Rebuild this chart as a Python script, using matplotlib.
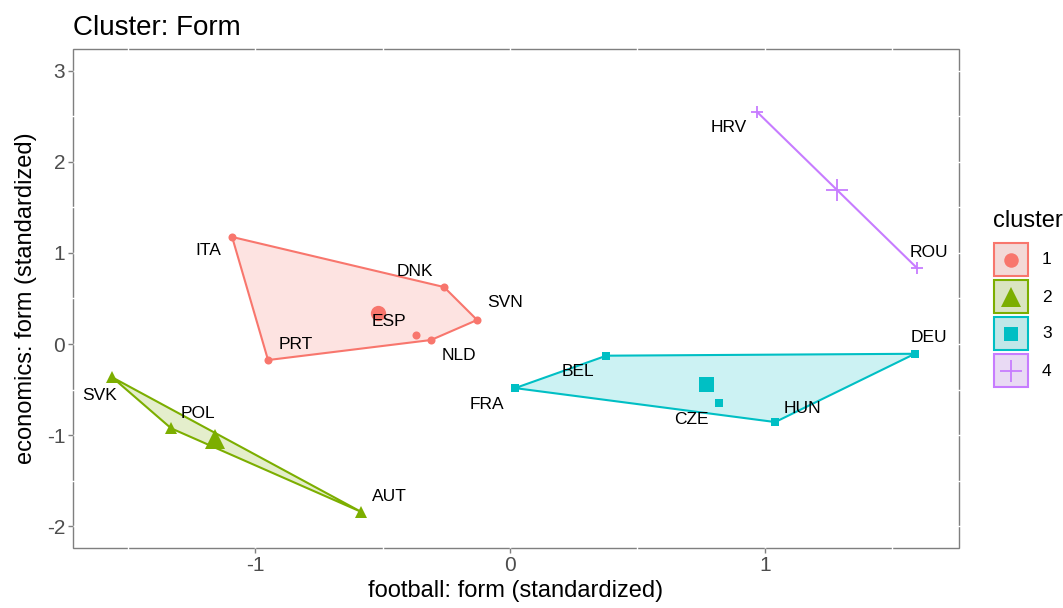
import numpy as np
import matplotlib
matplotlib.use("Agg")
import matplotlib.pyplot as plt
from matplotlib.patches import Rectangle, Polygon
from matplotlib.transforms import blended_transform_factory

plt.rcParams['font.family'] = ['Liberation Sans', 'DejaVu Sans']

# ---- data -------------------------------------------------------------
countries = ["ITA", "DNK", "SVN", "NLD", "ESP", "PRT",
             "SVK", "POL", "AUT",
             "BEL", "DEU", "FRA", "HUN", "CZE",
             "HRV", "ROU"]
cluster = [1, 1, 1, 1, 1, 1,
           2, 2, 2,
           3, 3, 3, 3, 3,
           4, 4]
football_form = [-1.090, -0.259, -0.129, -0.310, -0.369, -0.949,
                 -1.560, -1.329, -0.584,
                 0.378, 1.588, 0.020, 1.040, 0.821,
                 0.969, 1.595]
economics_form = [1.176, 0.626, 0.264, 0.044, 0.099, -0.176,
                  -0.366, -0.926, -1.843,
                  -0.128, -0.107, -0.484, -0.857, -0.645,
                  2.549, 0.838]
cluster_ids = [1, 2, 3, 4]

# ---- styling ----------------------------------------------------------
colors = {1: "#F8766D", 2: "#7CAE00", 3: "#00BFC4", 4: "#C77CFF"}
markers = {1: "o", 2: "^", 3: "s", 4: "+"}
small_ms = {1: 5.8, 2: 8.0, 3: 5.8, 4: 8.0}
big_ms = {1: 11.0, 2: 15.0, 3: 10.8, 4: 16.0}
# label offsets (pixels) so names sit beside their points
label_offset = {
    "ITA": (-24, -14), "DNK": (-29, 16), "SVN": (28, 17), "NLD": (28, -15),
    "ESP": (-27, 14), "PRT": (28, 16), "SVK": (-13, -18), "POL": (27, 15),
    "AUT": (28, 15), "BEL": (-28, -16), "DEU": (14, 16), "FRA": (-28, -16),
    "HUN": (27, 14), "CZE": (-28, -17), "HRV": (-28, -16), "ROU": (12, 15),
}

W, H = 1063, 608
fig = plt.figure(figsize=(W / 100, H / 100), dpi=100)
fig.patch.set_facecolor("white")
left, right, top, bottom = 73, 959, 49, 548
ax = fig.add_axes([left / W, 1 - bottom / H, (right - left) / W, (bottom - top) / H])
ax.set_xlim(-1.714, 1.761)
ax.set_ylim(-2.24, 3.24)


def convex_hull(pts):
    pts = sorted(set(pts))
    if len(pts) <= 2:
        return pts

    def cross(o, a, b):
        return (a[0] - o[0]) * (b[1] - o[1]) - (a[1] - o[1]) * (b[0] - o[0])
    lower, upper = [], []
    for p in pts:
        while len(lower) >= 2 and cross(lower[-2], lower[-1], p) <= 0:
            lower.pop()
        lower.append(p)
    for p in reversed(pts):
        while len(upper) >= 2 and cross(upper[-2], upper[-1], p) <= 0:
            upper.pop()
        upper.append(p)
    return lower[:-1] + upper[:-1]


x = np.array(football_form)
y = np.array(economics_form)
cl = np.array(cluster)

for c in cluster_ids:
    m = cl == c
    col = colors[c]
    pts = list(zip(x[m], y[m]))
    hull = convex_hull(pts)
    if len(hull) >= 3:
        ax.add_patch(Polygon(hull, closed=True, facecolor=col, alpha=0.2,
                             edgecolor="none", zorder=2))
        ax.add_patch(Polygon(hull, closed=True, facecolor="none",
                             edgecolor=col, lw=1.5, zorder=3))
    else:
        hx, hy = zip(*hull)
        ax.plot(hx, hy, color=col, lw=1.5, zorder=3)
    mew = 1.3 if markers[c] == "+" else 0
    ax.plot(x[m], y[m], linestyle="none", marker=markers[c], ms=small_ms[c],
            color=col, mec=col, mew=mew, zorder=4)
    ax.plot([x[m].mean()], [y[m].mean()], linestyle="none", marker=markers[c],
            ms=big_ms[c], color=col, mec=col, mew=mew, zorder=4)

for name, xi, yi in zip(countries, football_form, economics_form):
    dx, dy = label_offset[name]
    ax.annotate(name, (xi, yi), xytext=(dx, dy), textcoords="offset pixels",
                ha="center", va="center", fontsize=12.5, color="black", zorder=5)

# panel frame with white grid breaks
for s in ax.spines.values():
    s.set_visible(False)
ax.add_patch(Rectangle((0, 0), 1, 1, transform=ax.transAxes, fill=False,
                       edgecolor="#7F7F7F", lw=1.0, clip_on=False, zorder=0.4))
xgrid = [-1.5, -1, -0.5, 0, 0.5, 1, 1.5]
ygrid = [-2, -1.5, -1, -0.5, 0, 0.5, 1, 1.5, 2, 2.5, 3]
tx = blended_transform_factory(ax.transData, ax.transAxes)
ty = blended_transform_factory(ax.transAxes, ax.transData)
ax.vlines(xgrid, -0.006, 1.006, transform=tx, colors="white", lw=1.0,
          clip_on=False, zorder=0.5)
ax.hlines(ygrid, -0.004, 1.004, transform=ty, colors="white", lw=1.0,
          clip_on=False, zorder=0.5)

ax.set_xticks([-1, 0, 1])
ax.set_xticklabels(["-1", "0", "1"])
ax.set_yticks([-2, -1, 0, 1, 2, 3])
ax.set_yticklabels(["-2", "-1", "0", "1", "2", "3"])
ax.tick_params(axis="both", length=3.5, width=1.0, color="#7F7F7F",
               labelsize=15, labelcolor="#4D4D4D", pad=2)
ax.set_xlabel("football: form (standardized)", fontsize=17, labelpad=4)
ax.set_ylabel("economics: form (standardized)", fontsize=17, labelpad=7)
ax.set_title("Cluster: Form", loc="left", fontsize=20, pad=10)

# legend drawn in pixel space
lax = fig.add_axes([0, 0, 1, 1], zorder=10)
lax.set_xlim(0, W)
lax.set_ylim(H, 0)
lax.axis("off")
lax.patch.set_alpha(0)
lax.text(993, 221, "cluster", fontsize=17, ha="left", va="center")
key_tops = [242, 279, 316, 353]
for c, ktop in zip(cluster_ids, key_tops):
    col = colors[c]
    lax.add_patch(Rectangle((993, ktop), 36, 35, facecolor="#F2F2F2",
                            edgecolor="none"))
    lax.add_patch(Rectangle((994, ktop + 1), 34, 33, facecolor=col, alpha=0.2,
                            edgecolor="none"))
    lax.add_patch(Rectangle((994, ktop + 1), 34, 33, facecolor="none",
                            edgecolor=col, lw=1.5))
    mew = 1.3 if markers[c] == "+" else 0
    lax.plot([1011], [ktop + 17.5], linestyle="none", marker=markers[c],
             ms=big_ms[c] * 0.95, color=col, mec=col, mew=mew)
    lax.text(1042, ktop + 18, str(c), fontsize=12.5, ha="left", va="center")

fig.savefig("out.png", dpi=100)
